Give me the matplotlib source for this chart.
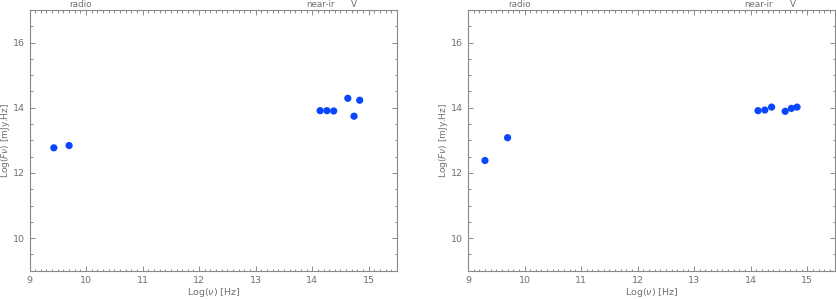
import numpy as np
import matplotlib.pyplot as plt
import matplotlib.transforms as mtransforms
from matplotlib.ticker import MultipleLocator

# log(nu) [Hz] and log(F_nu) [mJy.Hz]
nu_left = [9.43, 9.70, 14.14, 14.26, 14.38, 14.63, 14.74, 14.84]
f_left = [12.77, 12.84, 13.91, 13.91, 13.90, 14.29, 13.74, 14.23]

nu_right = [9.30, 9.70, 14.13, 14.25, 14.37, 14.61, 14.72, 14.82]
f_right = [12.38, 13.08, 13.91, 13.93, 14.02, 13.89, 13.98, 14.02]

band_names = ['radio', 'near-ir', 'V']
band_pos = [9.91, 14.14, 14.74]

grey = '#8a8a8a'
txt = '#707070'
blue = '#0a46ff'

plt.rcParams['font.family'] = 'DejaVu Sans'
plt.rcParams['font.size'] = 7

fig = plt.figure(figsize=(8.36, 2.99), dpi=100)
ax1 = fig.add_axes([0.0353, 0.0947, 0.4396, 0.872])
ax2 = fig.add_axes([0.5598, 0.0947, 0.4396, 0.872])

for ax, xs, ys in [(ax1, nu_left, f_left), (ax2, nu_right, f_right)]:
    ax.scatter(xs, ys, s=27, c=blue, edgecolors='none', zorder=3)
    ax.set_xlim(9, 15.5)
    ax.set_ylim(9, 17)
    ax.xaxis.set_major_locator(MultipleLocator(1))
    ax.xaxis.set_minor_locator(MultipleLocator(0.1))
    ax.yaxis.set_major_locator(MultipleLocator(2))
    ax.yaxis.set_minor_locator(MultipleLocator(0.5))
    ax.tick_params(which='both', direction='in', top=True, right=True,
                   color=grey, labelcolor=txt, width=0.7, labelsize=6.8)
    ax.tick_params(which='major', length=3.8, pad=3.5)
    ax.tick_params(which='minor', length=1.8)
    for sp in ax.spines.values():
        sp.set_color(grey)
        sp.set_linewidth(0.8)
    ax.set_xlabel(r'Log($\nu$) [Hz]', color=txt, fontsize=6.8, labelpad=1)
    ax.set_ylabel(r'Log($F\nu$) [mJy.Hz]', color=txt, fontsize=6.5, labelpad=0.5)
    trans = mtransforms.blended_transform_factory(ax.transData, ax.transAxes)
    for name, pos in zip(band_names, band_pos):
        ax.text(pos, 1.004, name, transform=trans, ha='center', va='bottom',
                color=txt, fontsize=6.3)

fig.savefig('out.png', dpi=100)
